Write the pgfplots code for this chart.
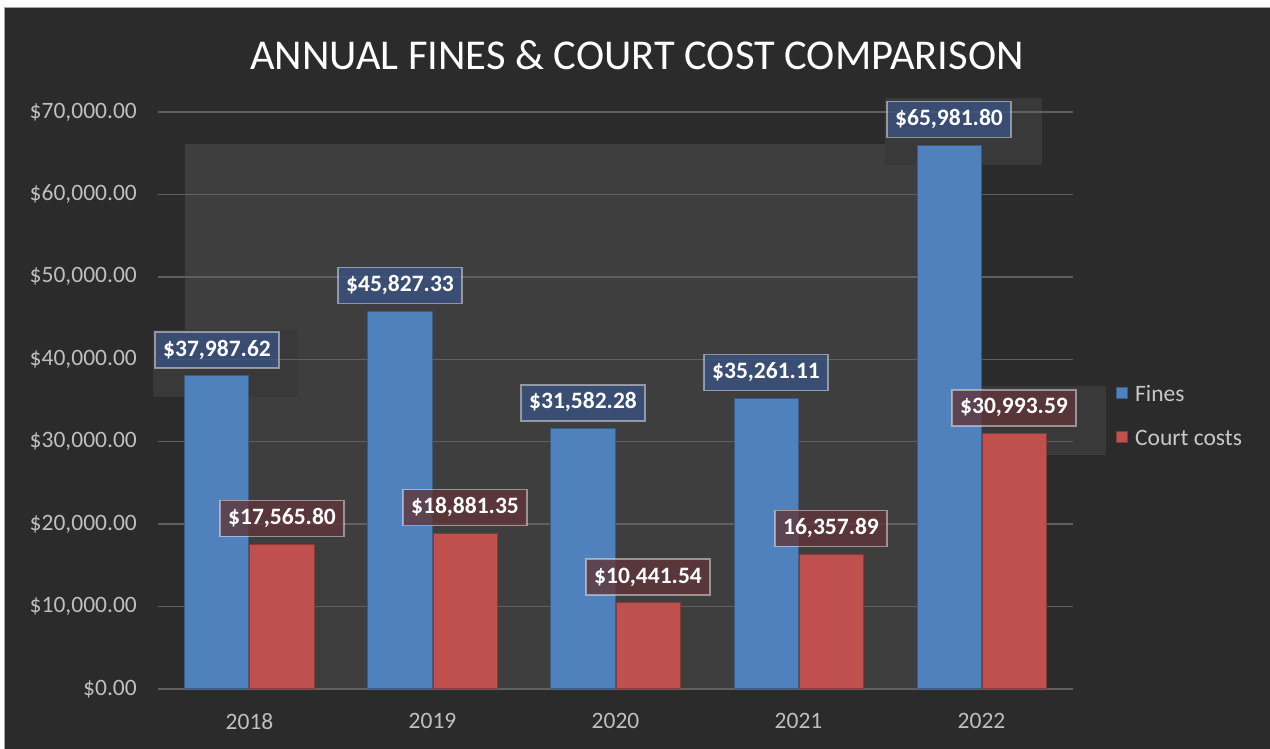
\documentclass[border=0pt]{standalone}
\usepackage{fontspec}
\setmainfont{Carlito}
\usepackage{pgfplots}
\pgfplotsset{compat=1.18}
\definecolor{bg}{HTML}{2B2B2B}
\definecolor{shadowc}{HTML}{3E3E3E}
\definecolor{patchc}{HTML}{393939}
\definecolor{gridc}{HTML}{606060}
\definecolor{ticktxt}{HTML}{BFBFBF}
\definecolor{legtxt}{HTML}{C8C8C8}
\definecolor{finesc}{HTML}{4F81BD}
\definecolor{finesd}{HTML}{385D8A}
\definecolor{courtc}{HTML}{C0504D}
\definecolor{courtd}{HTML}{8C3836}
\definecolor{lblblue}{HTML}{3A5382}
\definecolor{lblred}{HTML}{603538}

\begin{document}
\begin{tikzpicture}
\useasboundingbox (0,0) rectangle (1270pt,749pt);
% frame and background
\fill[white] (0,0) rectangle (1270pt,749pt);
\fill[bg] (4pt,0) rectangle (1270pt,742pt);
\draw[gray!70, line width=1pt] (4.5pt,0) -- (4.5pt,741.5pt) -- (1270pt,741.5pt);
% lighter shadow patches behind the plot
\fill[shadowc] (185pt,60pt) rectangle (982pt,605pt);
\fill[patchc] (885pt,584pt) rectangle (1042pt,651pt);
\fill[patchc] (153pt,352pt) rectangle (297pt,419pt);
\fill[patchc] (980pt,294pt) rectangle (1106pt,363pt);
% title
\node[anchor=base, text=white, font=\fontsize{42.5}{50}\selectfont]
  at (637pt,679pt) {ANNUAL FINES \& COURT COST COMPARISON};

\begin{axis}[
  at={(158pt,60pt)}, anchor=south west,
  scale only axis, width=915pt, height=577pt,
  xmin=-0.5, xmax=4.5, ymin=0, ymax=70000,
  ybar=1pt, bar width=64pt,
  axis line style={draw=none},
  major tick length=0pt,
  xtick={0,1,2,3,4}, xticklabels={2018,2019,2020,2021,2022},
  ytick={0,10000,20000,30000,40000,50000,60000,70000},
  scaled y ticks=false,
  /pgf/number format/assume math mode=true,
  yticklabel={\$\pgfmathprintnumber[assume math mode=true,fixed,fixed zerofill,precision=2,1000 sep={,}]{\tick}},
  ymajorgrids, grid style={gridc, line width=1.5pt},
  tick label style={font=\fontsize{23.5}{28}\selectfont, text=ticktxt, inner sep=0pt},
  yticklabel style={anchor=east, xshift=-21pt},
  xticklabel style={anchor=north, yshift=-24pt},
  clip=false,
  nodes near coords,
  point meta=explicit symbolic,
  every node near coord/.append style={anchor=south, yshift=7pt,
    font=\fontsize{23.5}{28}\selectfont\bfseries, text=white,
    fill opacity=0.8, text opacity=1, draw=white, draw opacity=0.45,
    line width=1.5pt, inner xsep=8pt, inner ysep=8pt,
    text height=16pt, text depth=4pt},
  legend image code/.code={\filldraw[#1] (0pt,-4pt) rectangle (11pt,7pt);},
  legend style={at={(1.0470,0.4723)}, anchor=west, draw=none, fill=none,
    inner sep=0pt, font=\fontsize{23.5}{28}\selectfont, text=legtxt,
    row sep=23pt, legend cell align=left,
    /tikz/every odd column/.append style={column sep=5pt}},
]
\addplot[fill=finesc, draw=finesd, line width=1pt,
  every node near coord/.append style={fill=lblblue}] coordinates {
  (0,37987.62) [\$37,987.62]
  (1,45827.33) [\$45,827.33]
  (2,31582.28) [\$31,582.28]
  (3,35261.11) [\$35,261.11]
  (4,65981.80) [\$65,981.80]
};
\addplot[fill=courtc, draw=courtd, line width=1pt,
  every node near coord/.append style={fill=lblred}] coordinates {
  (0,17565.80) [\$17,565.80]
  (1,18881.35) [\$18,881.35]
  (2,10441.54) [\$10,441.54]
  (3,16357.89) [16,357.89]
  (4,30993.59) [\$30,993.59]
};
\legend{Fines, Court costs}
\end{axis}
\end{tikzpicture}
\end{document}
